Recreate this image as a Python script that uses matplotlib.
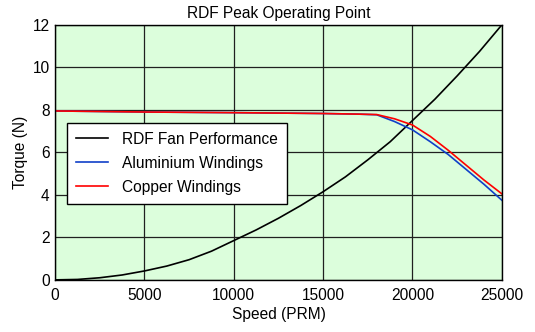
import numpy as np
import matplotlib
matplotlib.use("Agg")
import matplotlib.pyplot as plt

plt.rcParams['font.family'] = ['Liberation Sans', 'DejaVu Sans']

# fan load curve (speed in RPM, torque in N)
fan_speed = [0, 1250, 2500, 3750, 5000, 6250, 7500, 8750, 10000, 11250, 12500,
             13750, 15000, 16250, 17500, 18750, 20000, 21250, 22500, 23750, 25000]
fan_torque = [0.0, 0.02, 0.1, 0.23, 0.42, 0.65, 0.95, 1.35, 1.85, 2.35, 2.9,
              3.5, 4.15, 4.85, 5.65, 6.5, 7.5, 8.5, 9.6, 10.75, 12.0]

# motor peak torque curves
motor_speed = [0, 5000, 10000, 15000, 17000, 18000, 19000, 20000, 21000, 22000, 23000, 24000, 25000]
alu_torque = [7.95, 7.9, 7.87, 7.83, 7.8, 7.77, 7.45, 7.06, 6.5, 5.9, 5.2, 4.5, 3.75]
cu_torque = [7.95, 7.9, 7.87, 7.83, 7.8, 7.78, 7.58, 7.29, 6.75, 6.1, 5.4, 4.7, 4.05]

FS = 11.2

fig, ax = plt.subplots(figsize=(5.35, 3.32), dpi=100)
fig.subplots_adjust(left=0.103, right=0.938, top=0.925, bottom=0.157)

ax.set_facecolor('#dcfedc')
ax.plot(fan_speed, fan_torque, color='black', lw=1.2, label='RDF Fan Performance')
ax.plot(motor_speed, alu_torque, color='#1040c8', lw=1.2, label='Aluminium Windings')
ax.plot(motor_speed, cu_torque, color='#ff0000', lw=1.2, label='Copper Windings')

ax.set_xlim(0, 25000)
ax.set_ylim(0, 12)
ax.set_xticks(np.arange(0, 25001, 5000))
ax.set_yticks(np.arange(0, 13, 2))
ax.tick_params(axis='x', length=0, labelsize=FS, pad=6)
ax.tick_params(axis='y', length=0, labelsize=FS, pad=4)
ax.grid(True, color='#202020', lw=0.9)
ax.set_axisbelow(True)
for s in ax.spines.values():
    s.set_color('black')
    s.set_linewidth(1.0)

ax.set_title('RDF Peak Operating Point', fontsize=FS, pad=5)
ax.set_xlabel('Speed (PRM)', fontsize=FS, labelpad=3)
ax.set_ylabel('Torque (N)', fontsize=FS, labelpad=3)

leg = ax.legend(loc='upper left', bbox_to_anchor=(0.027, 0.616), borderaxespad=0,
                fontsize=FS, fancybox=False, framealpha=1, edgecolor='black',
                handlelength=2.05, handleheight=1.0, handletextpad=0.85,
                borderpad=0.6, labelspacing=0.55)
leg.get_frame().set_linewidth(1.0)

fig.savefig('out.png', dpi=100)
